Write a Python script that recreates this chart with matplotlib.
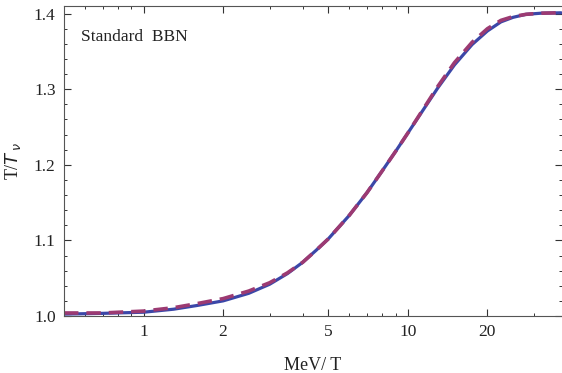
import numpy as np
import matplotlib
matplotlib.use("Agg")
import matplotlib.pyplot as plt
from matplotlib.ticker import FixedLocator, NullFormatter, FixedFormatter

# MeV/T grid and T/T_nu for the two calculations
x_vals = [0.5, 0.7, 1.0, 1.3, 1.6, 2.0, 2.5, 3.0, 3.5, 4.0, 4.5, 5.0, 6.0, 7.0,
          8.0, 9.0, 10.0, 11.5, 13.0, 15.0, 17.5, 20.0, 22.5, 25.0, 28.0, 32.0, 38.0]
y_solid = [1.0025, 1.0035, 1.005, 1.009, 1.014, 1.020, 1.030, 1.042, 1.056, 1.071,
           1.087, 1.102, 1.133, 1.163, 1.192, 1.218, 1.242, 1.274, 1.302, 1.332,
           1.359, 1.377, 1.389, 1.395, 1.399, 1.4005, 1.401]
y_dashed = [1.004, 1.004, 1.0065, 1.011, 1.0165, 1.023, 1.033, 1.044, 1.057, 1.071,
            1.087, 1.102, 1.133, 1.163, 1.192, 1.218, 1.242, 1.275, 1.304, 1.335,
            1.362, 1.380, 1.391, 1.396, 1.399, 1.4005, 1.401]

xticks = [1, 2, 5, 10, 20]
xtick_labels = ["1", "2", "5", "10", "20"]
xminor = [0.6, 0.7, 0.8, 0.9, 3, 4, 6, 7, 8, 9, 30]
yticks = [1.0, 1.1, 1.2, 1.3, 1.4]
ytick_labels = ["1.0", "1.1", "1.2", "1.3", "1.4"]

plt.rcParams['font.family'] = ['Liberation Serif', 'DejaVu Serif']

fig = plt.figure(figsize=(5.62, 3.73), dpi=100)
ax = fig.add_axes([64 / 562, 1 - 316 / 373, (562 - 64) / 562, 310 / 373])

ax.plot(x_vals, y_solid, color='#3b47a8', lw=2.3, solid_capstyle='round')
ax.plot(x_vals, y_dashed, color='#9c3a72', lw=2.6, ls=(0, (4, 2.2)))

ax.set_xscale('log')
ax.set_xlim(0.5, 38.3)
ax.set_ylim(1.0, 1.41)

ax.xaxis.set_major_locator(FixedLocator(xticks))
ax.xaxis.set_major_formatter(FixedFormatter(xtick_labels))
ax.xaxis.set_minor_locator(FixedLocator(xminor))
ax.xaxis.set_minor_formatter(NullFormatter())
ax.yaxis.set_major_locator(FixedLocator(yticks))
ax.yaxis.set_major_formatter(FixedFormatter(ytick_labels))
ax.yaxis.set_minor_locator(FixedLocator(np.arange(1.0, 1.41, 0.02)))

ax.tick_params(which='both', direction='in', top=True, right=True,
               color='#333333', labelsize=12.5, labelcolor='#222222', pad=6)
ax.tick_params(which='major', length=5, width=0.8)
ax.tick_params(which='minor', length=2.5, width=0.7)
for s in ax.spines.values():
    s.set_color('#555555')
    s.set_linewidth(0.8)
ax.spines['right'].set_visible(False)

ax.set_xlabel('MeV/ T', fontsize=13, color='#222222', labelpad=12)
ax.set_ylabel(r'T/$T_{\,\nu}$', fontsize=13, color='#222222', labelpad=8)
ax.text(0.035, 0.9, 'Standard  BBN', transform=ax.transAxes, fontsize=12.5,
        color='#222222', va='center')

fig.savefig('out.png', dpi=100)
